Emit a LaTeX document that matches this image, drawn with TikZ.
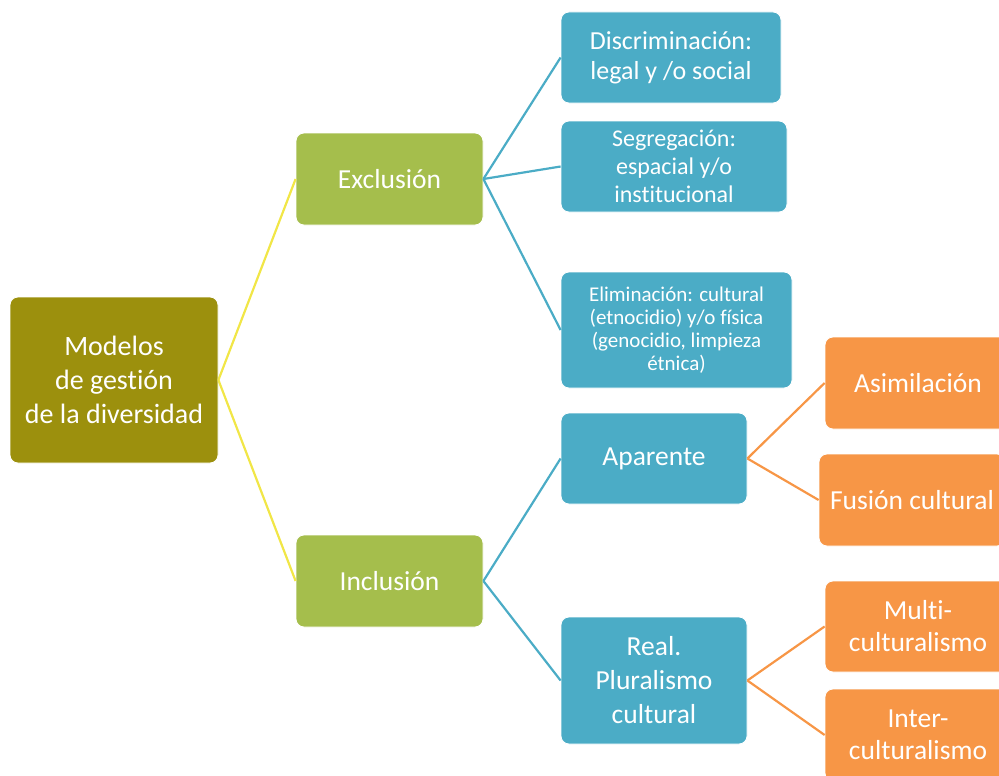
\documentclass[tikz,border=0pt]{standalone}
\usepackage{fontspec}
\setmainfont{Carlito}[Ligatures=NoCommon]
\definecolor{olive}{HTML}{9C900D}
\definecolor{lgreen}{HTML}{A5BE4C}
\definecolor{sblue}{HTML}{4BACC6}
\definecolor{sorange}{HTML}{F79646}
\definecolor{lyellow}{HTML}{F1E647}
\tikzset{
  box/.style={rectangle, rounded corners=8pt, draw=white, line width=0.8pt, text=white,
    align=center, inner sep=0pt},
  ylink/.style={draw=lyellow, line width=2.2pt},
  blink/.style={draw=sblue, line width=2.2pt},
  olink/.style={draw=sorange, line width=2.2pt},
}
\begin{document}
\begin{tikzpicture}[x=1pt,y=-1pt]
\useasboundingbox (0,0) rectangle (999,776);
\node[box, fill=olive, minimum width=208pt, minimum height=166pt, font=\fontsize{28}{34}\selectfont] (mod) at (114,380) {Modelos\\de gestión\\de la diversidad};
\node[box, fill=lgreen, minimum width=187pt, minimum height=92pt, font=\fontsize{27.5}{33}\selectfont] (exc) at (389.5,179) {Exclusión};
\node[box, fill=lgreen, minimum width=187pt, minimum height=92pt, font=\fontsize{27.5}{33}\selectfont] (inc) at (389.5,581) {Inclusión};
\node[box, fill=sblue, minimum width=220pt, minimum height=91pt, font=\fontsize{26}{30}\selectfont] (dis) at (671,57.5) {Discriminación:\\legal y /o social};
\node[box, fill=sblue, minimum width=226pt, minimum height=91pt, font=\fontsize{24}{28}\selectfont] (seg) at (674,166.5) {Segregación:\\espacial y/o\\institucional};
\node[box, fill=sblue, minimum width=231pt, minimum height=116pt, font=\fontsize{21}{23}\selectfont] (eli) at (676.5,330) {Eliminación: cultural\\(etnocidio) y/o física\\(genocidio, limpieza\\étnica)};
\node[box, fill=sblue, minimum width=186pt, minimum height=91pt, font=\fontsize{27.5}{33}\selectfont] (apa) at (654,458.5) {Aparente};
\node[box, fill=sblue, minimum width=186pt, minimum height=127pt, font=\fontsize{27.5}{34}\selectfont] (rea) at (654,680.5) {Real.\\Pluralismo\\cultural};
\node[box, fill=sorange, minimum width=186pt, minimum height=92pt, font=\fontsize{27.5}{33}\selectfont] (asi) at (918,383) {Asimilación};
\node[box, fill=sorange, minimum width=186pt, minimum height=92pt, font=\fontsize{27.5}{33}\selectfont] (fus) at (912,500) {Fusión cultural};
\node[box, fill=sorange, minimum width=186pt, minimum height=91pt, font=\fontsize{27.5}{32}\selectfont] (mul) at (918,626.5) {Multi-\\culturalismo};
\node[box, fill=sorange, minimum width=186pt, minimum height=92pt, font=\fontsize{27.5}{32}\selectfont] (int) at (918,735) {Inter-\\culturalismo};
\draw[ylink] (mod.east) -- (exc.west);
\draw[ylink] (mod.east) -- (inc.west);
\draw[blink] (exc.east) -- (dis.west);
\draw[blink] (exc.east) -- (seg.west);
\draw[blink] (exc.east) -- (eli.west);
\draw[blink] (inc.east) -- (apa.west);
\draw[blink] (inc.east) -- (rea.west);
\draw[olink] (apa.east) -- (asi.west);
\draw[olink] (apa.east) -- (fus.west);
\draw[olink] (rea.east) -- (mul.west);
\draw[olink] (rea.east) -- (int.west);
\end{tikzpicture}
\end{document}
